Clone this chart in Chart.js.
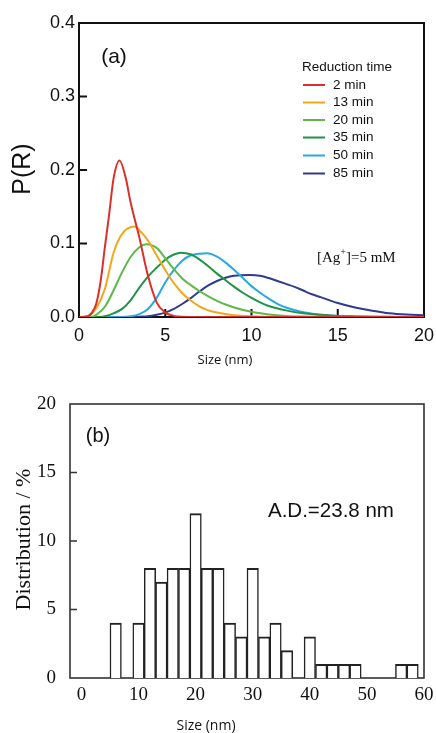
<!DOCTYPE html>
<html><head><meta charset="utf-8">
<script src="https://cdn.jsdelivr.net/npm/chart.js@4.4.1/dist/chart.umd.min.js"></script>
<style>
html,body{margin:0;padding:0;background:#fff;}
#wrap{position:relative;width:436px;height:733px;overflow:hidden;}
#ca{position:absolute;left:0;top:0;}
#cb{position:absolute;left:0;top:380px;}
</style></head><body>
<div id="wrap">
<canvas id="ca" width="436" height="380"></canvas>
<canvas id="cb" width="436" height="353"></canvas>
</div>
<script>
// ---------- Panel (a): size distributions P(R) ----------
const seriesLabels = ['2 min', '13 min', '20 min', '35 min', '50 min', '85 min'];
const seriesColors = ['#d9302c', '#f3a71e', '#5cb947', '#1f9446', '#29a9e1', '#2e3b8f'];

const x2min  = [0, 0.5, 0.75, 1, 1.25, 1.5, 1.75, 2, 2.35, 2.7, 3, 3.5, 4, 4.5, 5, 5.5, 6, 7, 20];
const p2min  = [0, 0.001, 0.006, 0.018, 0.048, 0.095, 0.14, 0.188, 0.213, 0.19, 0.155, 0.108, 0.056, 0.02, 0.006, 0.0015, 0.0003, 0, 0];

const x13min = [0, 0.5, 1, 1.5, 2, 2.5, 3.2, 3.5, 4, 4.5, 5, 5.5, 6, 6.5, 7, 7.5, 8, 9, 10, 11, 12, 20];
const p13min = [0, 0.001, 0.012, 0.038, 0.087, 0.113, 0.123, 0.118, 0.104, 0.084, 0.064, 0.046, 0.032, 0.022, 0.014, 0.009, 0.006, 0.0025, 0.001, 0.0004, 0, 0];

const x20min = [0, 0.75, 1, 1.5, 2, 2.5, 3, 3.5, 3.9, 4.5, 5, 5.5, 6, 6.5, 7, 7.5, 8, 8.5, 9, 10, 11, 12, 13, 14, 20];
const p20min = [0, 0, 0.003, 0.014, 0.036, 0.061, 0.082, 0.095, 0.099, 0.094, 0.08, 0.065, 0.052, 0.043, 0.035, 0.028, 0.022, 0.017, 0.013, 0.007, 0.0035, 0.0015, 0.0006, 0.0002, 0];

const x35min = [0, 1.2, 1.5, 2, 2.5, 3, 3.5, 4, 4.5, 5, 5.5, 5.9, 6.5, 7, 7.5, 8, 8.5, 9, 9.5, 10, 10.5, 11, 12, 13, 14, 15, 16, 17, 18, 20];
const p35min = [0, 0, 0.001, 0.005, 0.011, 0.023, 0.04, 0.055, 0.067, 0.078, 0.085, 0.0875, 0.085, 0.078, 0.069, 0.059, 0.05, 0.041, 0.033, 0.026, 0.02, 0.015, 0.009, 0.005, 0.003, 0.0015, 0.0008, 0.0004, 0.0002, 0];

const x50min = [0, 2.5, 3, 3.5, 4, 4.5, 5, 5.5, 6, 6.5, 7, 7.4, 8, 8.5, 9, 9.5, 10, 10.5, 11, 11.5, 12, 13, 14, 15, 16, 17, 18, 20];
const p50min = [0, 0, 0.001, 0.004, 0.011, 0.026, 0.047, 0.064, 0.077, 0.084, 0.0862, 0.0866, 0.082, 0.074, 0.064, 0.053, 0.042, 0.033, 0.025, 0.018, 0.013, 0.0065, 0.003, 0.0015, 0.0007, 0.0003, 0.0001, 0];

const x85min = [0, 3, 3.5, 4, 4.5, 5, 5.5, 6, 6.5, 7, 7.5, 8, 8.5, 9, 9.9, 10.5, 11, 11.5, 12, 12.5, 13, 13.5, 14, 14.5, 15, 16, 17, 18, 19, 20];
const p85min = [0, 0, 0.0005, 0.001, 0.003, 0.006, 0.011, 0.018, 0.026, 0.035, 0.043, 0.049, 0.0535, 0.056, 0.057, 0.056, 0.053, 0.049, 0.045, 0.041, 0.036, 0.031, 0.027, 0.023, 0.019, 0.013, 0.0085, 0.005, 0.0033, 0.0025];

const xsA = [x2min, x13min, x20min, x35min, x50min, x85min];
const ysA = [p2min, p13min, p20min, p35min, p50min, p85min];

// ---------- Panel (b): histogram ----------
const binCenters = [6, 8, 10, 12, 14, 16, 18, 20, 22, 24, 26, 28, 30, 32, 34, 36, 38, 40, 42, 44, 46, 48, 50, 52, 54, 56, 58];
const binPercent = [4, 0, 4, 8, 7, 8, 8, 12, 8, 8, 4, 3, 8, 3, 4, 2, 0, 3, 1, 1, 1, 1, 0, 0, 0, 1, 1];
const xTicksB = [0, 10, 20, 30, 40, 50, 60];
const yTicksB = [0, 5, 10, 15, 20];

function boxTicks(opts) {
  return {
    id: 'boxTicks',
    beforeDatasetsDraw(chart) {
      const { ctx, chartArea: a, scales } = chart;
      ctx.save();
      ctx.strokeStyle = opts.color;
      ctx.lineWidth = opts.lw;
      ctx.strokeRect(a.left, a.top, a.right - a.left, a.bottom - a.top);
      ctx.beginPath();
      opts.yTicks.forEach(v => {
        const y = scales.y.getPixelForValue(v);
        ctx.moveTo(a.left, y); ctx.lineTo(a.left + opts.len, y);
      });
      opts.xTicks.forEach(v => {
        const x = scales.x.getPixelForValue(v);
        ctx.moveTo(x, a.bottom); ctx.lineTo(x, a.bottom - opts.len);
      });
      ctx.stroke();
      ctx.restore();
    }
  };
}

function txt(ctx, s, x, y, font, align, rot) {
  ctx.save();
  ctx.font = font;
  ctx.fillStyle = '#111';
  ctx.textAlign = align || 'center';
  ctx.textBaseline = 'middle';
  ctx.translate(x, y);
  if (rot) ctx.rotate(rot);
  ctx.fillText(s, 0, 0);
  ctx.restore();
}

const noPadX = s => { s.paddingLeft = 0; s.paddingRight = 0; };
const noPadY = s => { s.paddingTop = 0; s.paddingBottom = 0; };

const textsA = {
  id: 'textsA',
  afterDraw(chart) {
    const ctx = chart.ctx;
    txt(ctx, '(a)', 114, 57, '21px "Liberation Sans"');
    txt(ctx, 'Reduction time', 302, 67, '13.5px "Liberation Sans"', 'left');
    const rows = [85, 102.5, 120, 137.5, 155.5, 173.5];
    seriesLabels.forEach((l, i) => {
      ctx.save();
      ctx.strokeStyle = seriesColors[i];
      ctx.lineWidth = 2;
      ctx.beginPath(); ctx.moveTo(303, rows[i]); ctx.lineTo(325, rows[i]); ctx.stroke();
      ctx.restore();
      txt(ctx, l, 333, rows[i], '13.5px "Liberation Sans"', 'left');
    });
    // [Ag+]=5 mM
    ctx.save();
    ctx.font = '15px "Liberation Serif"';
    ctx.fillStyle = '#111';
    ctx.textBaseline = 'middle';
    ctx.textAlign = 'left';
    let x = 317;
    ctx.fillText('[Ag', x, 258); x += ctx.measureText('[Ag').width;
    ctx.font = '10px "Liberation Serif"';
    ctx.fillText('+', x, 252); x += ctx.measureText('+').width;
    ctx.font = '15px "Liberation Serif"';
    ctx.fillText(']=5 mM', x, 258);
    ctx.restore();
    txt(ctx, 'P(R)', 23, 169, '25px "Liberation Sans"', 'center', -Math.PI / 2);
    txt(ctx, 'Size (nm)', 225, 360, '13px "Open Sans"');
  }
};

new Chart(document.getElementById('ca'), {
  type: 'line',
  data: {
    datasets: seriesLabels.map((l, i) => ({
      label: l,
      data: xsA[i].map((x, j) => ({ x: x, y: ysA[i][j] })),
      borderColor: seriesColors[i],
      borderWidth: 2,
      pointRadius: 0,
      cubicInterpolationMode: 'monotone',
      fill: false
    }))
  },
  options: {
    responsive: false,
    animation: false,
    layout: { padding: { top: 23, right: 12, left: 0, bottom: 0 } },
    plugins: { legend: { display: false }, tooltip: { enabled: false } },
    scales: {
      x: {
        type: 'linear', min: 0, max: 20,
        ticks: { stepSize: 5, color: '#111', padding: 8, maxRotation: 0, font: { family: 'Liberation Sans', size: 18 } },
        grid: { display: false, drawTicks: false },
        border: { display: false },
        afterFit: s => { s.height = 63; noPadX(s); }
      },
      y: {
        type: 'linear', min: 0, max: 0.4,
        ticks: { stepSize: 0.1, color: '#111', padding: 4, callback: v => Number(v).toFixed(1), font: { family: 'Liberation Sans', size: 18 } },
        grid: { display: false, drawTicks: false },
        border: { display: false },
        afterFit: s => { s.width = 79; noPadY(s); }
      }
    }
  },
  plugins: [boxTicks({ color: '#111', lw: 2, len: 8, yTicks: [0.1, 0.2, 0.3], xTicks: [5, 10, 15] }), textsA]
});

const textsB = {
  id: 'textsB',
  afterDraw(chart) {
    const ctx = chart.ctx;
    txt(ctx, '(b)', 98, 56, '20px "Liberation Sans"');
    txt(ctx, 'A.D.=23.8 nm', 268, 131.5, '20.5px "Liberation Sans"', 'left');
    txt(ctx, 'Distribution / %', 24, 159.5, '22px "Liberation Serif"', 'center', -Math.PI / 2);
    txt(ctx, 'Size (nm)', 206, 346, '14px "Open Sans"');
  }
};

new Chart(document.getElementById('cb'), {
  type: 'bar',
  data: {
    datasets: [{
      label: 'Distribution',
      data: binCenters.map((c, i) => ({ x: c, y: binPercent[i] })),
      backgroundColor: '#ffffff',
      borderColor: '#222',
      borderWidth: { top: 2, left: 1.5, right: 1.5, bottom: 0 },
      barPercentage: 1,
      categoryPercentage: 1
    }]
  },
  options: {
    responsive: false,
    animation: false,
    layout: { padding: { top: 24, right: 12, left: 0, bottom: 0 } },
    plugins: { legend: { display: false }, tooltip: { enabled: false } },
    scales: {
      x: {
        type: 'linear', min: -2, max: 60, offset: false,
        afterBuildTicks: s => { s.ticks = xTicksB.map(v => ({ value: v })); },
        ticks: { color: '#111', padding: 6, maxRotation: 0, autoSkip: false, font: { family: 'Liberation Serif', size: 19 } },
        grid: { display: false, drawTicks: false },
        border: { display: false },
        afterFit: s => { s.height = 55; noPadX(s); }
      },
      y: {
        type: 'linear', min: 0, max: 20,
        afterBuildTicks: s => { s.ticks = yTicksB.map(v => ({ value: v })); },
        ticks: { color: '#111', padding: 14, font: { family: 'Liberation Serif', size: 19 } },
        grid: { display: false, drawTicks: false },
        border: { display: false },
        afterFit: s => { s.width = 70; noPadY(s); }
      }
    }
  },
  plugins: [boxTicks({ color: '#333', lw: 1.6, len: 7, yTicks: [5, 10, 15], xTicks: [] }), textsB]
});
</script>
</body></html>
